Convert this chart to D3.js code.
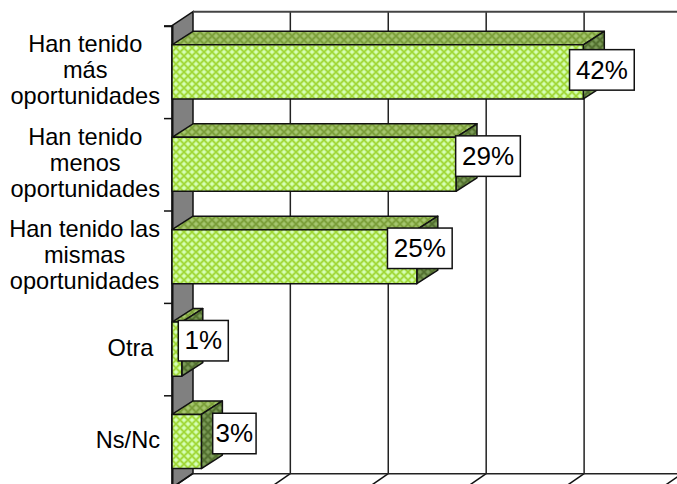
<!DOCTYPE html>
<html>
<head>
<meta charset="utf-8">
<script src="https://d3js.org/d3.v7.min.js"></script>
<style>
  html, body { margin: 0; padding: 0; background: #fff; }
  svg { display: block; }
  text { font-family: "Liberation Sans", Arial, sans-serif; fill: #000; }
</style>
</head>
<body>
<script>
// Chart values
var categories = ["Han tenido más oportunidades", "Han tenido menos oportunidades", "Han tenido las mismas oportunidades", "Otra", "Ns/Nc"];
var categoryLines = [
  ["Han tenido", "más", "oportunidades"],
  ["Han tenido", "menos", "oportunidades"],
  ["Han tenido las", "mismas", "oportunidades"],
  ["Otra "],
  ["Ns/Nc"]
];
var values = [42, 29, 25, 1, 3];
var xTicks = [0, 10, 20, 30, 40, 50];

// Hand placed data labels, as in the original chart
var labelShiftX = [18.6, 32, 3, 21.5, 33];
var labelShiftY = [-2, -8.2, -8.4, -8.4, -8];
var labelWidths = [64.7, 64.7, 64.7, 50, 43.4];
var labelHeight = 40.5;

var svgWidth = 677;
var svgHeight = 484;

// 3D offset of the back wall and of the bars
var wallDx = 21, wallDy = 14;
var barDx = 21, barDy = 13.5;

var svg = d3.select("body")
  .append("svg")
  .attr("width", svgWidth)
  .attr("height", svgHeight);

var defs = svg.append("defs");

// Lattice fill, one for each face of the bars
function addPattern(id, base, line, spot) {
  var p = defs.append("pattern")
    .attr("id", id)
    .attr("width", 8)
    .attr("height", 8)
    .attr("patternUnits", "userSpaceOnUse");
  p.append("rect").attr("width", 8).attr("height", 8).attr("fill", base);
  p.append("path")
    .attr("d", "M0 0L8 8M8 0L0 8")
    .attr("stroke", line)
    .attr("stroke-width", 1.3);
  p.append("path")
    .attr("d", "M4 -2L6 0L4 2L2 0ZM4 6L6 8L4 10L2 8ZM0 2L2 4L0 6L-2 4ZM8 2L10 4L8 6L6 4Z")
    .attr("fill", spot);
}
addPattern("front", "#bcee78", "#a0d636", "#d6ffb8");
addPattern("top", "#90b552", "#7b9d3a", "#a6c670");
addPattern("side", "#64843e", "#526f30", "#7c9c5a");

var x = d3.scaleLinear()
  .domain([0, 42])
  .range([172, 583.3]);

// Category slots, ticks sit on the borders between them
var slot = d3.scaleLinear()
  .domain([0, categories.length])
  .range([25.7, 487.7]);

var y = d3.scaleBand()
  .domain(categories)
  .range(slot.range())
  .paddingInner(0.415)
  .paddingOuter(0.2075);

var top0 = slot(0), bottom0 = slot(categories.length);
var polygon = d3.line();

// Back wall
svg.append("path")
  .attr("d", polygon([[x(0), top0], [x(0) + wallDx, top0 - wallDy], [x(0) + wallDx, bottom0 - wallDy], [x(0), bottom0]]) + "Z")
  .attr("fill", "#808080")
  .attr("stroke", "#111")
  .attr("stroke-width", 1.5);

// Gridlines on the back
svg.append("g")
  .selectAll("line")
  .data(xTicks.slice(1))
  .enter()
  .append("line")
  .attr("x1", d => x(d) + wallDx - 0.6)
  .attr("x2", d => x(d) + wallDx - 0.6)
  .attr("y1", top0 - wallDy)
  .attr("y2", bottom0 - wallDy)
  .attr("stroke", "#222")
  .attr("stroke-width", 1.5);

// Floor lines
svg.append("g")
  .selectAll("line")
  .data(xTicks)
  .enter()
  .append("line")
  .attr("x1", d => x(d) + wallDx - 0.6)
  .attr("x2", d => x(d))
  .attr("y1", bottom0 - wallDy)
  .attr("y2", bottom0)
  .attr("stroke", "#111")
  .attr("stroke-width", 1.5);

// Top and bottom of the back plane
[top0 - wallDy, bottom0 - wallDy].forEach(function(lineY, i) {
  svg.append("line")
    .attr("x1", x(0) + wallDx)
    .attr("x2", svgWidth)
    .attr("y1", lineY)
    .attr("y2", lineY)
    .attr("stroke", i == 0 ? "#444" : "#222")
    .attr("stroke-width", i == 0 ? 2 : 1.5);
});

// Left axis, only the tick marks
var leftAxis = d3.axisLeft(slot)
  .tickValues(d3.range(categories.length + 1))
  .tickSize(8)
  .tickFormat("");

svg.append("g")
  .attr("transform", "translate(" + x(0) + ",0)")
  .call(leftAxis)
  .call(g => g.select(".domain").attr("stroke", "#111").attr("stroke-width", 2))
  .call(g => g.selectAll(".tick line").attr("stroke", "#111").attr("stroke-width", 1.5));

// Category labels: centred lines in a block that is right aligned
var labels = svg.append("g");
categoryLines.forEach(function(lines, i) {
  var center = y(categories[i]) + y.bandwidth() / 2;
  var first = center + 6.5 - (lines.length - 1) / 2 * 26;
  var group = labels.append("g");
  var texts = group.selectAll("text")
    .data(lines)
    .enter()
    .append("text")
    .attr("y", (d, j) => first + j * 26)
    .attr("font-size", 23.6)
    .attr("text-anchor", "middle")
    .style("white-space", "pre")
    .text(d => d);
  var widest = d3.max(texts.nodes(), n => n.getComputedTextLength());
  texts.attr("x", 160 - widest / 2);
});

// Bars
var bars = svg.append("g")
  .selectAll("g")
  .data(values)
  .enter()
  .append("g");

bars.append("path")
  .attr("d", (d, i) => {
    var t = y(categories[i]);
    return polygon([[x(0), t], [x(0) + barDx, t - barDy], [x(d) + barDx, t - barDy], [x(d), t]]) + "Z";
  })
  .attr("fill", "url(#top)");

bars.append("path")
  .attr("d", (d, i) => {
    var t = y(categories[i]), b = t + y.bandwidth();
    return polygon([[x(d), t], [x(d) + barDx, t - barDy], [x(d) + barDx, b - barDy], [x(d), b]]) + "Z";
  })
  .attr("fill", "url(#side)");

bars.append("rect")
  .attr("x", x(0))
  .attr("y", (d, i) => y(categories[i]))
  .attr("width", d => x(d) - x(0))
  .attr("height", y.bandwidth())
  .attr("fill", "url(#front)");

bars.selectAll("path, rect")
  .attr("stroke", "#111")
  .attr("stroke-width", 1.5)
  .attr("stroke-linejoin", "round");

// Data labels
var dataLabels = svg.append("g")
  .selectAll("g")
  .data(values)
  .enter()
  .append("g")
  .attr("transform", (d, i) => {
    var cx = x(d) + labelShiftX[i];
    var cy = y(categories[i]) + y.bandwidth() / 2 + labelShiftY[i];
    return "translate(" + cx + "," + cy + ")";
  });

dataLabels.append("rect")
  .attr("x", (d, i) => -labelWidths[i] / 2)
  .attr("y", -labelHeight / 2)
  .attr("width", (d, i) => labelWidths[i])
  .attr("height", labelHeight)
  .attr("fill", "#fff")
  .attr("stroke", "#111")
  .attr("stroke-width", 1.5);

dataLabels.append("text")
  .attr("text-anchor", "middle")
  .attr("y", 8.7)
  .attr("font-size", 26)
  .text(d => d + "%");
</script>
</body>
</html>
